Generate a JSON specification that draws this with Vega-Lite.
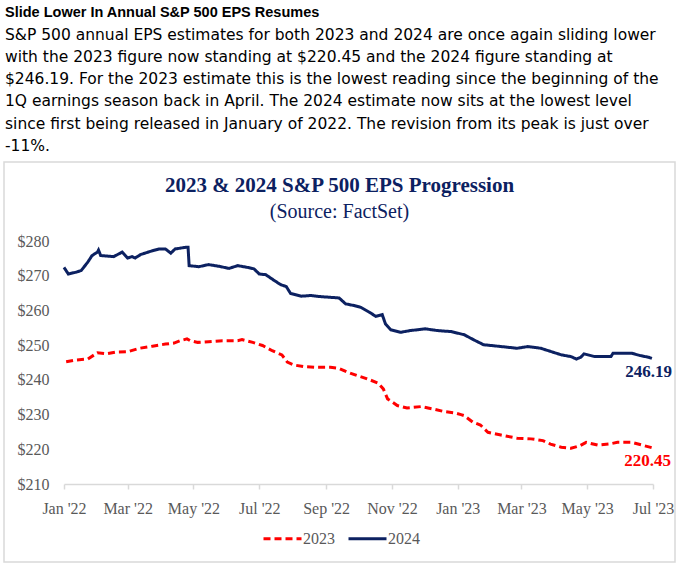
{
  "$schema": "https://vega.github.io/schema/vega-lite/v6.json",
  "background": "white",
  "padding": {"left": 3, "top": 5, "right": 0, "bottom": 0},
  "title": {
    "text": "Slide Lower In Annual S&P 500 EPS Resumes",
    "subtitle": [
      "S&P 500 annual EPS estimates for both 2023 and 2024 are once again sliding lower",
      "with the 2023 figure now standing at $220.45 and the 2024 figure standing at",
      "$246.19. For the 2023 estimate this is the lowest reading since the beginning of the",
      "1Q earnings season back in April. The 2024 estimate now sits at the lowest level",
      "since first being released in January of 2022. The revision from its peak is just over",
      "-11%."
    ],
    "anchor": "start",
    "frame": "group",
    "dx": 1,
    "font": "Liberation Sans",
    "fontSize": 14.5,
    "fontWeight": "bold",
    "color": "#000000",
    "subtitleFont": "DejaVu Sans",
    "subtitleFontSize": 15.5,
    "subtitleColor": "#000000",
    "subtitleLineHeight": 22.2,
    "subtitlePadding": 7,
    "offset": 6
  },
  "datasets": {
    "eps": [
      {"date": "2022-01-01", "series": "2024", "value": 272.4},
      {"date": "2022-01-05", "series": "2024", "value": 270.5},
      {"date": "2022-01-12", "series": "2024", "value": 271.0},
      {"date": "2022-01-17", "series": "2024", "value": 271.5},
      {"date": "2022-01-23", "series": "2024", "value": 273.9},
      {"date": "2022-01-27", "series": "2024", "value": 275.8},
      {"date": "2022-02-01", "series": "2024", "value": 276.8},
      {"date": "2022-02-02", "series": "2024", "value": 277.4},
      {"date": "2022-02-04", "series": "2024", "value": 275.8},
      {"date": "2022-02-16", "series": "2024", "value": 275.5},
      {"date": "2022-02-24", "series": "2024", "value": 276.8},
      {"date": "2022-03-01", "series": "2024", "value": 275.1},
      {"date": "2022-03-05", "series": "2024", "value": 275.5},
      {"date": "2022-03-08", "series": "2024", "value": 275.1},
      {"date": "2022-03-13", "series": "2024", "value": 276.1},
      {"date": "2022-03-24", "series": "2024", "value": 277.2},
      {"date": "2022-03-30", "series": "2024", "value": 277.7},
      {"date": "2022-04-05", "series": "2024", "value": 277.7},
      {"date": "2022-04-10", "series": "2024", "value": 276.5},
      {"date": "2022-04-14", "series": "2024", "value": 277.7},
      {"date": "2022-04-24", "series": "2024", "value": 278.2},
      {"date": "2022-04-26", "series": "2024", "value": 278.2},
      {"date": "2022-04-27", "series": "2024", "value": 272.9},
      {"date": "2022-05-06", "series": "2024", "value": 272.6},
      {"date": "2022-05-15", "series": "2024", "value": 273.2},
      {"date": "2022-05-25", "series": "2024", "value": 272.7},
      {"date": "2022-06-03", "series": "2024", "value": 272.1},
      {"date": "2022-06-11", "series": "2024", "value": 272.9},
      {"date": "2022-06-20", "series": "2024", "value": 272.4},
      {"date": "2022-06-26", "series": "2024", "value": 272.0},
      {"date": "2022-07-01", "series": "2024", "value": 270.5},
      {"date": "2022-07-07", "series": "2024", "value": 270.3},
      {"date": "2022-07-15", "series": "2024", "value": 268.6},
      {"date": "2022-07-21", "series": "2024", "value": 267.4},
      {"date": "2022-07-26", "series": "2024", "value": 266.9},
      {"date": "2022-07-30", "series": "2024", "value": 264.9},
      {"date": "2022-08-09", "series": "2024", "value": 264.1},
      {"date": "2022-08-18", "series": "2024", "value": 264.3},
      {"date": "2022-08-26", "series": "2024", "value": 264.0},
      {"date": "2022-09-04", "series": "2024", "value": 263.8},
      {"date": "2022-09-13", "series": "2024", "value": 263.6},
      {"date": "2022-09-19", "series": "2024", "value": 261.9},
      {"date": "2022-09-27", "series": "2024", "value": 261.4},
      {"date": "2022-10-03", "series": "2024", "value": 260.9},
      {"date": "2022-10-11", "series": "2024", "value": 259.5},
      {"date": "2022-10-17", "series": "2024", "value": 258.3},
      {"date": "2022-10-23", "series": "2024", "value": 258.8},
      {"date": "2022-10-26", "series": "2024", "value": 256.1},
      {"date": "2022-10-31", "series": "2024", "value": 254.4},
      {"date": "2022-11-09", "series": "2024", "value": 253.7},
      {"date": "2022-11-18", "series": "2024", "value": 254.2},
      {"date": "2022-12-02", "series": "2024", "value": 254.7},
      {"date": "2022-12-13", "series": "2024", "value": 254.2},
      {"date": "2022-12-26", "series": "2024", "value": 253.9},
      {"date": "2023-01-07", "series": "2024", "value": 253.0},
      {"date": "2023-01-16", "series": "2024", "value": 251.5},
      {"date": "2023-01-25", "series": "2024", "value": 250.1},
      {"date": "2023-02-01", "series": "2024", "value": 249.9},
      {"date": "2023-02-16", "series": "2024", "value": 249.4},
      {"date": "2023-02-25", "series": "2024", "value": 249.1},
      {"date": "2023-03-07", "series": "2024", "value": 249.6},
      {"date": "2023-03-19", "series": "2024", "value": 249.1},
      {"date": "2023-03-28", "series": "2024", "value": 248.2},
      {"date": "2023-04-07", "series": "2024", "value": 247.2},
      {"date": "2023-04-16", "series": "2024", "value": 246.7},
      {"date": "2023-04-21", "series": "2024", "value": 246.0},
      {"date": "2023-04-25", "series": "2024", "value": 246.5},
      {"date": "2023-04-28", "series": "2024", "value": 247.5},
      {"date": "2023-05-08", "series": "2024", "value": 246.7},
      {"date": "2023-05-23", "series": "2024", "value": 246.7},
      {"date": "2023-05-25", "series": "2024", "value": 247.7},
      {"date": "2023-06-11", "series": "2024", "value": 247.7},
      {"date": "2023-06-19", "series": "2024", "value": 247.0},
      {"date": "2023-06-27", "series": "2024", "value": 246.5},
      {"date": "2023-06-30", "series": "2024", "value": 246.19},
      {"date": "2022-01-03", "series": "2023", "value": 245.2},
      {"date": "2022-01-12", "series": "2023", "value": 245.7},
      {"date": "2022-01-23", "series": "2023", "value": 246.0},
      {"date": "2022-02-01", "series": "2023", "value": 247.8},
      {"date": "2022-02-09", "series": "2023", "value": 247.5},
      {"date": "2022-02-18", "series": "2023", "value": 248.0},
      {"date": "2022-03-01", "series": "2023", "value": 248.1},
      {"date": "2022-03-12", "series": "2023", "value": 249.1},
      {"date": "2022-03-24", "series": "2023", "value": 249.7},
      {"date": "2022-04-05", "series": "2023", "value": 250.3},
      {"date": "2022-04-13", "series": "2023", "value": 250.6},
      {"date": "2022-04-19", "series": "2023", "value": 251.3},
      {"date": "2022-04-25", "series": "2023", "value": 251.8},
      {"date": "2022-04-28", "series": "2023", "value": 251.3},
      {"date": "2022-05-05", "series": "2023", "value": 250.8},
      {"date": "2022-05-15", "series": "2023", "value": 251.0},
      {"date": "2022-05-28", "series": "2023", "value": 251.3},
      {"date": "2022-06-11", "series": "2023", "value": 251.3},
      {"date": "2022-06-15", "series": "2023", "value": 251.6},
      {"date": "2022-06-25", "series": "2023", "value": 250.8},
      {"date": "2022-07-04", "series": "2023", "value": 249.9},
      {"date": "2022-07-13", "series": "2023", "value": 248.4},
      {"date": "2022-07-22", "series": "2023", "value": 247.2},
      {"date": "2022-07-27", "series": "2023", "value": 245.1},
      {"date": "2022-08-02", "series": "2023", "value": 244.3},
      {"date": "2022-08-11", "series": "2023", "value": 243.8},
      {"date": "2022-08-24", "series": "2023", "value": 243.6},
      {"date": "2022-09-05", "series": "2023", "value": 243.6},
      {"date": "2022-09-13", "series": "2023", "value": 243.3},
      {"date": "2022-09-21", "series": "2023", "value": 242.2},
      {"date": "2022-09-30", "series": "2023", "value": 241.2},
      {"date": "2022-10-09", "series": "2023", "value": 240.3},
      {"date": "2022-10-19", "series": "2023", "value": 239.1},
      {"date": "2022-10-24", "series": "2023", "value": 237.4},
      {"date": "2022-10-28", "series": "2023", "value": 234.5},
      {"date": "2022-11-06", "series": "2023", "value": 232.6},
      {"date": "2022-11-15", "series": "2023", "value": 231.9},
      {"date": "2022-11-28", "series": "2023", "value": 232.3},
      {"date": "2022-12-09", "series": "2023", "value": 231.6},
      {"date": "2022-12-19", "series": "2023", "value": 230.9},
      {"date": "2022-12-29", "series": "2023", "value": 230.5},
      {"date": "2023-01-04", "series": "2023", "value": 230.0},
      {"date": "2023-01-07", "series": "2023", "value": 229.7},
      {"date": "2023-01-15", "series": "2023", "value": 227.8},
      {"date": "2023-01-22", "series": "2023", "value": 227.0},
      {"date": "2023-01-29", "series": "2023", "value": 224.9},
      {"date": "2023-02-10", "series": "2023", "value": 224.1},
      {"date": "2023-02-25", "series": "2023", "value": 223.2},
      {"date": "2023-03-10", "series": "2023", "value": 223.0},
      {"date": "2023-03-21", "series": "2023", "value": 222.5},
      {"date": "2023-03-28", "series": "2023", "value": 221.5},
      {"date": "2023-04-07", "series": "2023", "value": 220.6},
      {"date": "2023-04-16", "series": "2023", "value": 220.3},
      {"date": "2023-04-24", "series": "2023", "value": 221.0},
      {"date": "2023-04-30", "series": "2023", "value": 222.0},
      {"date": "2023-05-11", "series": "2023", "value": 221.2},
      {"date": "2023-05-21", "series": "2023", "value": 221.5},
      {"date": "2023-05-29", "series": "2023", "value": 222.0},
      {"date": "2023-06-11", "series": "2023", "value": 222.0},
      {"date": "2023-06-21", "series": "2023", "value": 221.2},
      {"date": "2023-06-30", "series": "2023", "value": 220.45}
    ]
  },
  "vconcat": [
    {
      "width": 671,
      "height": 400,
      "view": {"stroke": "#d9d9d9", "strokeWidth": 1.5},
      "title": {
        "text": "2023 & 2024 S&P 500 EPS Progression",
        "subtitle": "(Source: FactSet)",
        "anchor": "middle",
        "font": "Liberation Serif",
        "fontSize": 21,
        "fontWeight": "bold",
        "color": "#0c2161",
        "subtitleFont": "Liberation Serif",
        "subtitleFontSize": 20,
        "subtitleColor": "#0c2161",
        "subtitlePadding": 6,
        "offset": -60
      },
      "data": {"name": "eps"},
      "encoding": {
        "x": {
          "field": "date",
          "type": "temporal",
          "scale": {
            "type": "utc",
            "domain": [
              {"year": 2022, "month": 1, "date": 1, "utc": true},
              {"year": 2023, "month": 7, "date": 1, "utc": true}
            ],
            "range": [60, 649],
            "nice": false
          },
          "axis": {
            "title": null,
            "orient": "bottom",
            "offset": -78,
            "format": "%b '%y",
            "values": [
              {"year": 2022, "month": 1, "date": 1, "utc": true},
              {"year": 2022, "month": 3, "date": 1, "utc": true},
              {"year": 2022, "month": 5, "date": 1, "utc": true},
              {"year": 2022, "month": 7, "date": 1, "utc": true},
              {"year": 2022, "month": 9, "date": 1, "utc": true},
              {"year": 2022, "month": 11, "date": 1, "utc": true},
              {"year": 2023, "month": 1, "date": 1, "utc": true},
              {"year": 2023, "month": 3, "date": 1, "utc": true},
              {"year": 2023, "month": 5, "date": 1, "utc": true},
              {"year": 2023, "month": 7, "date": 1, "utc": true}
            ],
            "grid": false,
            "domainColor": "#d9d9d9",
            "domainWidth": 1.5,
            "tickColor": "#d9d9d9",
            "tickWidth": 1.5,
            "tickSize": 5,
            "labelFont": "Liberation Serif",
            "labelFontSize": 16,
            "labelColor": "#595959",
            "labelPadding": 11,
            "labelFlush": false,
            "labelOverlap": false
          }
        },
        "y": {
          "field": "value",
          "type": "quantitative",
          "scale": {"domain": [210, 280], "range": [322, 79], "zero": false, "nice": false},
          "axis": {
            "title": null,
            "offset": -50,
            "values": [210, 220, 230, 240, 250, 260, 270, 280],
            "format": "$.0f",
            "domain": false,
            "ticks": false,
            "grid": false,
            "labelFont": "Liberation Serif",
            "labelFontSize": 16,
            "labelColor": "#595959",
            "labelPadding": 5
          }
        }
      },
      "layer": [
        {
          "mark": {"type": "line", "strokeWidth": 3},
          "encoding": {
            "color": {
              "field": "series",
              "type": "nominal",
              "scale": {"domain": ["2023", "2024"], "range": ["#ff0000", "#0c2161"]},
              "legend": {
                "title": null,
                "orient": "none",
                "legendX": 258,
                "legendY": 356,
                "direction": "horizontal",
                "symbolType": "stroke",
                "symbolSize": 1444,
                "symbolStrokeWidth": 3,
                "labelFont": "Liberation Serif",
                "labelFontSize": 16,
                "labelColor": "#595959",
                "labelOffset": 0,
                "columnPadding": 7
              }
            },
            "strokeDash": {
              "field": "series",
              "type": "nominal",
              "scale": {"domain": ["2023", "2024"], "range": [[7, 4], [1, 0]]},
              "legend": {
                "title": null,
                "orient": "none",
                "legendX": 258,
                "legendY": 356,
                "direction": "horizontal",
                "symbolType": "stroke",
                "symbolSize": 1444,
                "symbolStrokeWidth": 3,
                "labelFont": "Liberation Serif",
                "labelFontSize": 16,
                "labelColor": "#595959",
                "labelOffset": 0,
                "columnPadding": 7
              }
            }
          }
        },
        {
          "transform": [
            {"filter": {"field": "series", "equal": "2024"}},
            {"filter": {"field": "date", "equal": {"year": 2023, "month": 6, "date": 30, "utc": true}}}
          ],
          "mark": {"type": "text", "align": "right", "baseline": "middle", "dx": 20, "dy": 14, "font": "Liberation Serif", "fontSize": 17, "fontWeight": "bold", "color": "#0c2161"},
          "encoding": {"text": {"field": "value", "type": "quantitative", "format": ".2f"}}
        },
        {
          "transform": [
            {"filter": {"field": "series", "equal": "2023"}},
            {"filter": {"field": "date", "equal": {"year": 2023, "month": 6, "date": 30, "utc": true}}}
          ],
          "mark": {"type": "text", "align": "right", "baseline": "middle", "dx": 19, "dy": 13, "font": "Liberation Serif", "fontSize": 17, "fontWeight": "bold", "color": "#ff0000"},
          "encoding": {"text": {"field": "value", "type": "quantitative", "format": ".2f"}}
        }
      ]
    }
  ]
}
